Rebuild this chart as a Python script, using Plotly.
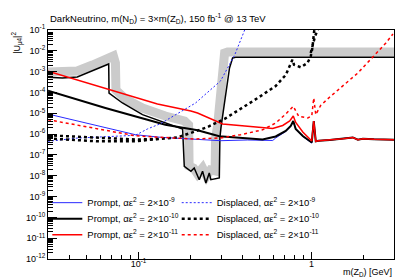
import plotly.graph_objects as go

# ---------------- data ----------------
# existing limit (black line) and its grey exclusion band
limit_m = [0.030, 0.0363, 0.0443, 0.0542, 0.0673, 0.0676, 0.0808, 0.1055, 0.143, 0.1757, 0.18,
           0.184, 0.201, 0.21, 0.2246, 0.2347, 0.2453, 0.2566, 0.2621, 0.2933, 0.2956, 0.2996,
           0.336, 0.35, 0.3645, 3.0]
limit_u = [5.35e-4, 4.95e-4, 5.53e-4, 1.07e-3, 2.33e-3, 9.4e-5, 3.12e-5, 8.55e-6, 3.41e-6, 1.96e-6, 1.76e-6,
           2.84e-8, 1.63e-8, 2.36e-8, 6.46e-9, 1.63e-8, 4.48e-9, 1.35e-8, 6.46e-9, 7.8e-9, 6.5e-7, 1.96e-6,
           1.5e-3, 4.52e-3, 4.89e-3, 4.89e-3]

band_m = [0.030, 0.0443, 0.0542, 0.0661, 0.0716, 0.0736, 0.0741, 0.0841, 0.1055, 0.143, 0.1847, 0.1949,
          0.1962, 0.208, 0.2196, 0.2347, 0.2476, 0.2611, 0.2773, 0.2792, 0.2867, 0.3147, 0.3275, 3.0]
band_u = [9.6e-4, 1.07e-3, 2.08e-3, 5.05e-3, 5.64e-3, 2.6e-3, 1.31e-4, 4.85e-5, 1.79e-5, 7.4e-6, 4.26e-6, 2.74e-6,
          2.94e-8, 2.36e-8, 1.21e-8, 2.36e-8, 9.7e-9, 1.89e-8, 1.7e-8, 6.5e-7, 2.45e-6, 7.86e-3, 8.78e-3, 8.78e-3]

# common high-mass tail of the prompt curves
tail_m = [1.102, 1.276, 1.518, 1.734, 1.854, 1.982, 2.3, 3.0]
tail_u = [4.82e-7, 5.2e-7, 6.0e-7, 6.9e-7, 5.4e-7, 6.0e-7, 5.6e-7, 5.4e-7]

prompt9_m = [0.030, 0.096, 0.134, 0.298, 0.428, 0.597, 0.621, 0.710, 0.759, 0.785, 0.811, 0.891,
             1.004, 1.031, 1.059] + tail_m
prompt9_u = [9.23e-6, 9.36e-7, 7.02e-7, 4.82e-7, 5.21e-7, 4.93e-7, 6.5e-7, 1.33e-6, 2.3e-6, 4.0e-6, 1.66e-6, 7.67e-7,
             3.7e-7, 4.26e-6, 4.5e-7] + tail_u

prompt10_m = [0.030, 0.0644, 0.143, 0.2196, 0.2933, 0.428, 0.522, 0.621, 0.710, 0.759, 0.785, 0.811, 0.891,
              1.004, 1.031, 1.059] + tail_m
prompt10_u = [1.21e-4, 1.8e-5, 2.83e-6, 1.52e-6, 7.84e-7, 6.15e-7, 5.51e-7, 7.67e-7, 1.41e-6, 2.45e-6, 4.26e-6,
              1.76e-6, 8.1e-7, 3.95e-7, 4.26e-6, 4.5e-7] + tail_u

prompt11_m = [0.030, 0.1288, 0.2009, 0.2196, 0.3065, 0.597, 0.682, 0.749, 0.785, 0.811, 0.891,
              1.004, 1.031, 1.059] + tail_m
prompt11_u = [1.04e-3, 2.79e-5, 1.29e-5, 1.03e-5, 3.06e-6, 1.86e-6, 2.6e-6, 4.26e-6, 7.4e-6, 3.6e-6, 1.26e-6,
              4.67e-7, 4.26e-6, 4.5e-7] + tail_u

displ9_m = [0.030, 0.0449, 0.096, 0.1127, 0.134, 0.168, 0.2138, 0.298, 0.36, 0.411, 0.428]
displ9_u = [4.51e-7, 6.5e-7, 8.75e-7, 1.76e-6, 3.16e-6, 9.2e-6, 3.12e-5, 3.55e-4, 6.3e-3, 0.1, 0.16]

# displaced 2e-10: three branches separated by None
displ10_m = [0.030, 0.058, 0.096, 0.129, 0.168, 0.2, 0.251, 0.315, 0.40, 0.489, 0.621, 0.71, 0.776, 0.793,
             0.867, 0.948, 0.991, 1.013, 1.031, 1.045, None,
             0.030, 0.058, 0.096, 0.129, None,
             0.99, 1.022, 1.049, 1.098]
displ10_u = [8.75e-7, 6.5e-7, 5.5e-7, 5.8e-7, 6.9e-7, 1.13e-6, 2.2e-6, 5.4e-6, 1.79e-5, 5.4e-5, 2.04e-4, 6.9e-4,
             3.75e-3, 2.15e-3, 1.62e-3, 2.6e-3, 5.5e-3, 0.0137, 0.059, 0.16, None,
             6.15e-7, 4.5e-7, 4.5e-7, 5.8e-7, None,
             7.9e-3, 0.0238, 0.05, 0.125]

displ11_m = [0.030, 0.096, 0.134, 0.211, 0.298, 0.39, 0.522, 0.621, 0.71, 0.785, 0.844, 0.952, 1.004, 1.031,
             1.059, 1.132, 1.276, 1.518, 1.854, 2.264, 2.693, 2.957]
displ11_u = [4.92e-6, 8.3e-7, 7.0e-7, 5.8e-7, 6.5e-7, 9.4e-7, 1.6e-6, 3.4e-6, 9.2e-6, 2.16e-5, 7.1e-6, 5.93e-6,
             7.4e-6, 5.4e-5, 8.6e-6, 2.42e-5, 6.0e-5, 2.04e-4, 8.6e-4, 5.05e-3, 0.0238, 0.0643]

legend_prompt = ["Prompt, αε<sup>2</sup> = 2×10<sup>-9</sup>",
                 "Prompt, αε<sup>2</sup> = 2×10<sup>-10</sup>",
                 "Prompt, αε<sup>2</sup> = 2×10<sup>-11</sup>"]
legend_displ = ["Displaced, αε<sup>2</sup> = 2×10<sup>-9</sup>",
                "Displaced, αε<sup>2</sup> = 2×10<sup>-10</sup>",
                "Displaced, αε<sup>2</sup> = 2×10<sup>-11</sup>"]

y_exponents = list(range(-12, 0))
x_tickvals = [0.1, 1]
x_ticktext = ["10<sup>-1</sup>", "1"]

# ---------------- figure ----------------
FONT = "Liberation Sans, Arial, Helvetica, sans-serif"
fig = go.Figure()

fig.add_trace(go.Scatter(x=band_m, y=band_u, mode="lines", showlegend=False, hoverinfo="skip",
                         line=dict(color="#cbcbcb", width=9)))
fig.add_trace(go.Scatter(x=limit_m, y=limit_u, mode="lines", showlegend=False,
                         line=dict(color="black", width=1.5)))

fig.add_trace(go.Scatter(x=prompt9_m, y=prompt9_u, mode="lines", name=legend_prompt[0], legend="legend",
                         line=dict(color="#2a2aff", width=1)))
fig.add_trace(go.Scatter(x=prompt10_m, y=prompt10_u, mode="lines", name=legend_prompt[1], legend="legend2",
                         line=dict(color="black", width=2)))
fig.add_trace(go.Scatter(x=prompt11_m, y=prompt11_u, mode="lines", name=legend_prompt[2], legend="legend3",
                         line=dict(color="#ff0000", width=1.5)))

fig.add_trace(go.Scatter(x=displ9_m, y=displ9_u, mode="lines", name=legend_displ[0], legend="legend4",
                         line=dict(color="#2a2aff", width=1, dash="2px,2px")))
fig.add_trace(go.Scatter(x=displ10_m, y=displ10_u, mode="lines", name=legend_displ[1], legend="legend5",
                         line=dict(color="black", width=2.5, dash="3px,3px")))
fig.add_trace(go.Scatter(x=displ11_m, y=displ11_u, mode="lines", name=legend_displ[2], legend="legend6",
                         line=dict(color="#ff0000", width=1.5, dash="3px,3px")))

y_minor = [k * 10.0 ** e for e in range(-12, -1) for k in range(2, 10)]
x_minor = [k * 10.0 ** e for e in (-2, -1, 0) for k in range(2, 10)]

row_y = [0.246, 0.176, 0.106]
col_x = [-0.002, 0.372]


def leg(x, y):
    return dict(x=x, y=y, xanchor="left", yanchor="middle", bgcolor="rgba(0,0,0,0)",
                font=dict(family=FONT, size=9.5), itemwidth=30)


fig.update_layout(
    width=407, height=279,
    margin=dict(l=40, r=21, t=22, b=28),
    paper_bgcolor="white", plot_bgcolor="white",
    font=dict(family=FONT, size=9, color="black"),
    xaxis=dict(type="log", range=[-1.5229, 0.4771], showgrid=False, zeroline=False,
               showline=True, linecolor="black", linewidth=1, mirror=True,
               ticks="inside", ticklen=7, tickcolor="black", tickwidth=1,
               tickmode="array", tickvals=x_tickvals, ticktext=x_ticktext,
               tickfont=dict(size=9), ticklabelstandoff=-4,
               minor=dict(ticks="inside", ticklen=4, tickcolor="black", tickmode="array",
                          tickvals=x_minor, showgrid=False)),
    yaxis=dict(type="log", range=[-12, -1], showgrid=False, zeroline=False,
               showline=True, linecolor="black", linewidth=1, mirror=True,
               ticks="inside", ticklen=9, tickcolor="black", tickwidth=1,
               tickmode="array", tickvals=[10.0 ** e for e in y_exponents],
               ticktext=["10<sup>%d</sup>" % e for e in y_exponents],
               tickfont=dict(size=9),
               minor=dict(ticks="inside", ticklen=5, tickcolor="black", tickmode="array",
                          tickvals=y_minor, showgrid=False)),
    legend=leg(col_x[0], row_y[0]),
    legend2=leg(col_x[0], row_y[1]),
    legend3=leg(col_x[0], row_y[2]),
    legend4=leg(col_x[1], row_y[0]),
    legend5=leg(col_x[1], row_y[1]),
    legend6=leg(col_x[1], row_y[2]),
    showlegend=True,
)

fig.add_annotation(text="DarkNeutrino, m(N<sub>D</sub>) = 3×m(Z<sub>D</sub>), 150 fb<sup>-1</sup> @ 13 TeV",
                   xref="paper", yref="paper", x=0, y=1.0, xanchor="left", yanchor="bottom",
                   yshift=3, showarrow=False, font=dict(family=FONT, size=9.5))
fig.add_annotation(text="m(Z<sub>D</sub>) [GeV]", xref="paper", yref="paper", x=1, y=-0.06,
                   xanchor="right", yanchor="middle", showarrow=False, font=dict(family=FONT, size=9))
fig.add_annotation(text="|U<sub>μ4</sub>|<sup>2</sup>", xref="paper", yref="paper", x=-0.09, y=1.0,
                   xanchor="center", yanchor="top", textangle=-90, showarrow=False,
                   font=dict(family=FONT, size=9))

fig.write_html("out.html")
